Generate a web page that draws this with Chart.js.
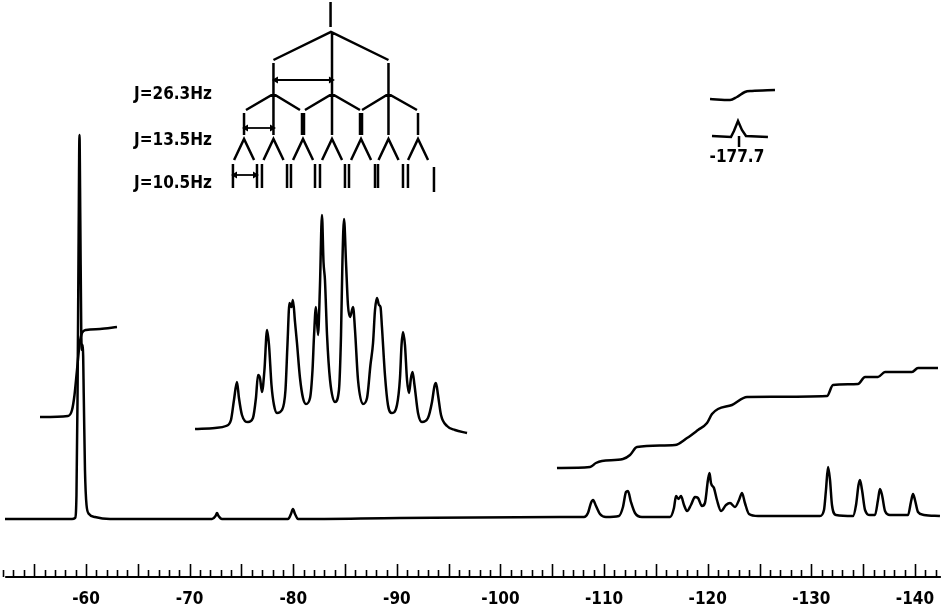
<!DOCTYPE html>
<html>
<head>
<meta charset="utf-8">
<title>19F NMR spectrum</title>
<script src="https://cdn.jsdelivr.net/npm/chart.js@4.4.1/dist/chart.umd.min.js"></script>
<style>
  html, body { margin: 0; padding: 0; background: #fff; }
</style>
</head>
<body>
<canvas id="spectrum" width="947" height="615"></canvas>
<script>
// ── data (x in ppm, y = signal height above baseline) ──────────────
const TICK_LABELS = [-60, -70, -80, -90, -100, -110, -120, -130, -140];

const MAIN_PPM = [-52.18, -55.56, -58.65, -58.94, -59.08, -59.18, -59.28, -59.37, -59.45, -59.54,
  -59.61, -59.69, -59.79, -59.90, -60.05, -60.29, -60.87, -62.32, -72.16, -72.50,
  -72.64, -72.79, -73.12, -79.49, -79.78, -79.97, -80.17, -80.46, -90.30, -105.74,
  -108.06, -108.44, -108.73, -108.93, -109.22, -109.60, -110.18, -111.43, -111.82, -112.11,
  -112.30, -112.59, -112.98, -113.65, -116.36, -116.74, -116.94, -117.18, -117.42, -117.71,
  -118.00, -118.38, -118.77, -119.06, -119.44, -119.73, -120.02, -120.17, -120.31, -120.60,
  -120.89, -121.28, -121.76, -122.15, -122.63, -123.02, -123.31, -123.59, -123.98, -124.85,
  -130.83, -131.22, -131.41, -131.61, -131.80, -131.99, -132.38, -134.02, -134.31, -134.55,
  -134.69, -134.89, -135.18, -135.66, -136.14, -136.43, -136.62, -136.82, -137.11, -137.59,
  -139.33, -139.61, -139.81, -140.00, -140.29, -140.87, -142.41];
const MAIN_INT = [0, 0, 0, 1, 24, 119, 269, 384, 299, 189,
  169, 174, 119, 49, 14, 5, 2, 0, 0, 3,
  6, 3, 0, 0, 5, 10, 5, 0, 1, 2,
  2, 6, 16, 19, 13, 5, 2, 3, 12, 27,
  28, 17, 6, 2, 2, 11, 23, 20, 23, 14,
  8, 14, 22, 21, 13, 16, 39, 46, 36, 31,
  19, 8, 14, 16, 12, 19, 26, 16, 5, 3,
  3, 9, 29, 52, 39, 14, 4, 3, 14, 34,
  39, 29, 9, 4, 4, 19, 30, 24, 8, 4,
  4, 17, 25, 19, 7, 4, 3];

// expanded multiplet (drawn over -70 .. -97)
const INSET_PPM = [-70.52, -72.45, -73.51, -73.99, -74.28, -74.57, -74.76, -75.05, -75.63, -76.11,
  -76.40, -76.60, -76.79, -76.98, -77.22, -77.47, -77.66, -77.90, -78.14, -78.43,
  -78.91, -79.25, -79.44, -79.64, -79.83, -79.97, -80.17, -80.36, -80.65, -80.94,
  -81.23, -81.62, -81.86, -82.00, -82.19, -82.39, -82.58, -82.77, -82.92, -83.06,
  -83.26, -83.55, -84.03, -84.41, -84.61, -84.75, -84.90, -85.09, -85.28, -85.48,
  -85.77, -85.96, -86.25, -86.73, -87.12, -87.45, -87.70, -87.89, -88.08, -88.27,
  -88.42, -88.56, -88.85, -89.14, -89.53, -90.01, -90.30, -90.45, -90.59, -90.78,
  -90.98, -91.17, -91.36, -91.51, -91.70, -92.04, -92.42, -93.00, -93.39, -93.63,
  -93.77, -93.97, -94.26, -94.84, -95.61, -96.77];
const INSET_INT = [90, 91, 93, 99, 119, 137, 121, 104, 97, 101,
  121, 144, 141, 127, 149, 189, 174, 134, 114, 106,
  109, 129, 174, 216, 212, 219, 197, 176, 141, 121,
  115, 121, 149, 182, 212, 184, 234, 304, 257, 239,
  184, 139, 117, 129, 184, 259, 300, 257, 214, 202,
  212, 189, 139, 115, 121, 154, 176, 209, 221, 214,
  212, 192, 144, 114, 106, 114, 141, 174, 187, 174,
  139, 126, 141, 147, 134, 106, 97, 101, 117, 133,
  136, 124, 104, 93, 89, 86];

// integral traces
const INTEG1_PPM = [-55.56, -58.26, -58.65, -58.89, -59.13, -59.37, -59.61, -60.00, -61.35, -62.99];
const INTEG1_VAL = [102, 103, 109, 124, 149, 174, 186, 189, 190, 192];
const INTEG2_PPM = [-105.45, -108.64, -109.21, -109.79, -111.82, -112.50, -113.17, -116.84, -118.00, -119.06,
  -119.93, -120.41, -120.99, -122.34, -123.79, -131.51, -132.09, -134.50, -135.18, -136.43,
  -137.11, -139.71, -140.29, -142.22];
const INTEG2_VAL = [51, 52, 56, 58, 60, 64, 72, 74, 81, 89,
  96, 105, 110, 114, 122, 123, 134, 135, 142, 142,
  147, 147, 151, 151];

// small inset for the -177.7 signal
const STEP177_PPM = [-120.22, -122.15, -122.82, -123.59, -124.27, -126.49];
const STEP177_VAL = [420, 419, 422, 427, 428, 429];
const PEAK177_PPM = [-120.41, -122.24, -122.53, -122.92, -123.30, -123.69, -125.81];
const PEAK177_VAL = [383, 382, 388, 398, 389, 383, 382];

// splitting tree, each entry is one stroke
const TREE = [
  [[-83.60, 517], [-83.60, 492]],
  [[-78.09, 459], [-83.64, 487], [-89.19, 459]],
  [[-83.74, 487], [-83.74, 384]],
  [[-78.09, 456], [-78.09, 384]],
  [[-89.19, 456], [-89.19, 384]],
  [[-75.44, 409], [-78.09, 425], [-80.65, 409]],
  [[-81.13, 409], [-83.74, 425], [-86.44, 409]],
  [[-86.64, 409], [-89.19, 425], [-91.94, 409]],
  [[-75.25, 406], [-75.25, 384]],
  [[-92.04, 406], [-92.04, 384]],
  [[-74.29, 359], [-75.25, 380], [-76.22, 359]],
  [[-77.13, 359], [-78.09, 380], [-79.06, 359]],
  [[-79.98, 359], [-80.94, 380], [-81.91, 359]],
  [[-82.78, 359], [-83.74, 380], [-84.71, 359]],
  [[-85.58, 359], [-86.54, 380], [-87.51, 359]],
  [[-88.23, 359], [-89.19, 380], [-90.16, 359]],
  [[-91.08, 359], [-92.04, 380], [-93.01, 359]],
  [[-74.18, 355], [-74.18, 331]], [[-76.50, 355], [-76.50, 331]],
  [[-76.98, 355], [-76.98, 331]], [[-79.40, 355], [-79.40, 331]],
  [[-79.78, 355], [-79.78, 331]], [[-82.10, 355], [-82.10, 331]],
  [[-82.58, 355], [-82.58, 331]], [[-84.99, 355], [-84.99, 331]],
  [[-85.38, 355], [-85.38, 331]], [[-87.89, 355], [-87.89, 331]],
  [[-88.18, 355], [-88.18, 331]], [[-90.59, 355], [-90.59, 331]],
  [[-91.07, 355], [-91.07, 331]], [[-93.58, 352], [-93.58, 327]],
  [[-123.02, 383], [-123.02, 372]]
];
const TREE_BOLD = [
  [[-80.94, 406], [-80.94, 384]],
  [[-86.54, 406], [-86.54, 384]]
];
// coupling arrows: [from ppm, to ppm, height]
const ARROWS = [[-78.33, -83.64, 439], [-75.44, -77.95, 391], [-74.38, -76.31, 344]];

const NOTES = [
  { text: "J=26.3Hz", ppm: -64.63, y: 424, align: "left" },
  { text: "J=13.5Hz", ppm: -64.63, y: 378, align: "left" },
  { text: "J=10.5Hz", ppm: -64.63, y: 335, align: "left" },
  { text: "-177.7",   ppm: -122.82, y: 361, align: "center" }
];

// ── helpers ──────────────────────────────────────────────
const FONT = "'DejaVu Sans Condensed', 'DejaVu Sans', sans-serif";

function trace(xs, ys) { return xs.map((x, i) => ({ x, y: ys[i] })); }

function strokes(list) {
  const out = [];
  list.forEach(seg => {
    seg.forEach(([x, y]) => out.push({ x, y }));
    out.push({ x: seg[seg.length - 1][0], y: null });
  });
  return out;
}

function lineSet(data, extra) {
  return Object.assign({
    data,
    borderColor: "#000",
    borderWidth: 2.5,
    pointRadius: 0,
    fill: false,
    spanGaps: false,
    tension: 0
  }, extra || {});
}

const arrowSets = ARROWS.map(([a, b, h]) => lineSet(
  [{ x: a, y: h }, { x: b, y: h }],
  {
    borderWidth: 1.8,
    pointRadius: 4,
    pointStyle: "triangle",
    pointRotation: [-90, 90],
    pointBackgroundColor: "#000",
    pointBorderColor: "#000",
    pointBorderWidth: 0
  }
));

// ruler: base line, ticks (1 ppm minor, 5 ppm major) and annotation text
const annotate = {
  id: "annotate",
  afterDraw(chart) {
    const { ctx, chartArea, scales: { x, y } } = chart;
    const base = chartArea.bottom;
    ctx.save();
    ctx.strokeStyle = "#000";
    ctx.lineWidth = 2;
    ctx.beginPath();
    ctx.moveTo(x.getPixelForValue(-52.2), base);
    ctx.lineTo(x.getPixelForValue(-142.5), base);
    ctx.stroke();
    ctx.lineWidth = 1.6;
    for (let v = -52; v >= -142; v--) {
      const px = Math.round(x.getPixelForValue(v)) + 0.5;
      const len = v % 5 === 0 ? 13 : 7;
      ctx.beginPath();
      ctx.moveTo(px, base);
      ctx.lineTo(px, base - len);
      ctx.stroke();
    }
    ctx.fillStyle = "#000";
    ctx.font = "bold 17px " + FONT;
    ctx.textBaseline = "middle";
    NOTES.forEach(n => {
      ctx.textAlign = n.align;
      ctx.fillText(n.text, x.getPixelForValue(n.ppm), y.getPixelForValue(n.y));
    });
    ctx.restore();
  }
};

new Chart(document.getElementById("spectrum"), {
  type: "line",
  data: {
    datasets: [
      lineSet(trace(MAIN_PPM, MAIN_INT), { cubicInterpolationMode: "monotone" }),
      lineSet(trace(INSET_PPM, INSET_INT), { cubicInterpolationMode: "monotone" }),
      lineSet(trace(INTEG1_PPM, INTEG1_VAL), { cubicInterpolationMode: "monotone" }),
      lineSet(trace(INTEG2_PPM, INTEG2_VAL), { cubicInterpolationMode: "monotone" }),
      lineSet(trace(STEP177_PPM, STEP177_VAL), { cubicInterpolationMode: "monotone" }),
      lineSet(trace(PEAK177_PPM, PEAK177_VAL)),
      lineSet(strokes(TREE)),
      lineSet(strokes(TREE_BOLD), { borderWidth: 4.5 }),
      ...arrowSets
    ]
  },
  options: {
    responsive: false,
    animation: false,
    layout: { padding: 0, autoPadding: false },
    plugins: { legend: { display: false }, tooltip: { enabled: false } },
    scales: {
      x: {
        type: "linear",
        reverse: true,
        min: -143.09,
        max: -51.70,
        afterBuildTicks: scale => { scale.ticks = TICK_LABELS.map(v => ({ value: v })); },
        afterFit: scale => { scale.height = 38; },
        border: { display: false },
        grid: { display: false, drawTicks: false },
        ticks: {
          autoSkip: false,
          maxRotation: 0,
          padding: 12,
          color: "#000",
          font: { family: FONT, size: 17, weight: "bold" },
          callback: v => String(v)
        }
      },
      y: { type: "linear", display: false, min: -58, max: 519 }
    }
  },
  plugins: [annotate]
});
</script>
</body>
</html>
